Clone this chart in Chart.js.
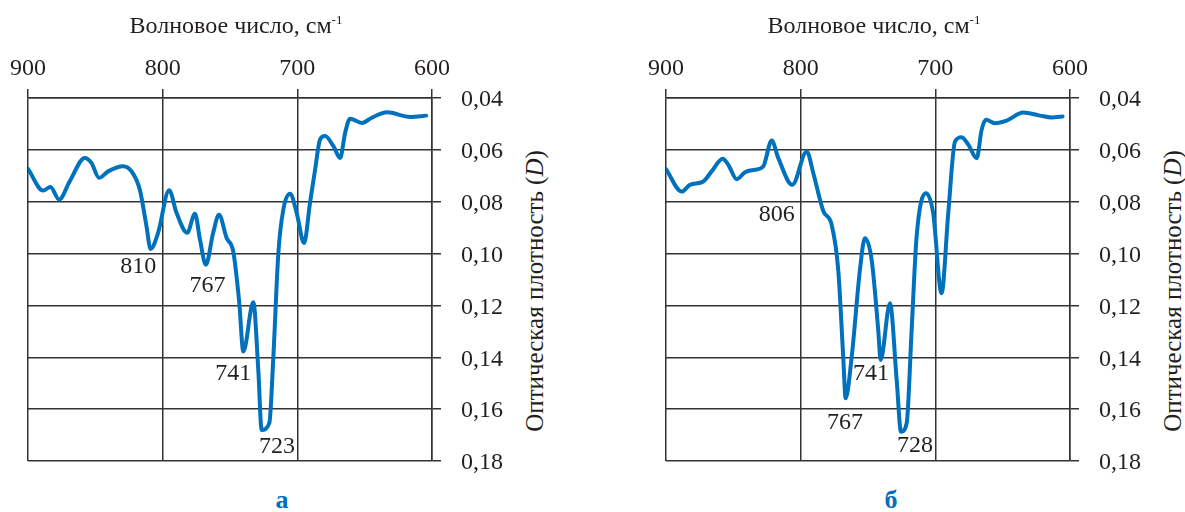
<!DOCTYPE html>
<html>
<head>
<meta charset="utf-8">
<script src="https://cdn.jsdelivr.net/npm/chart.js@4/dist/chart.umd.min.js"></script>
<style>
  body { margin: 0; background: #fff; width: 1185px; height: 512px; position: relative; overflow: hidden; font-family: "Liberation Serif", serif; color: #231f20; }
  canvas { position: absolute; top: 0; }
  .title { position: absolute; width: 400px; text-align: center; font-size: 24px; line-height: 24px; white-space: nowrap; }
  .title span { font-size: 13px; position: relative; top: -9px; }
  .ytitle { position: absolute; width: 400px; height: 30px; line-height: 30px; text-align: center; font-size: 25px; transform: rotate(-90deg); white-space: nowrap; }
  .letter { position: absolute; width: 60px; text-align: center; font-size: 26px; line-height: 30px; font-weight: bold; color: #0071bc; }
</style>
</head>
<body>
<canvas id="chartA" width="520" height="480" style="left:0"></canvas>
<canvas id="chartB" width="520" height="480" style="left:638px"></canvas>

<div class="title" style="left:36px; top:13px">Волновое число, см<span>-1</span></div>
<div class="title" style="left:674px; top:13px">Волновое число, см<span>-1</span></div>
<div class="ytitle" style="left:335px; top:276px">Оптическая плотность (<i>D</i>)</div>
<div class="ytitle" style="left:973px; top:276px">Оптическая плотность (<i>D</i>)</div>
<div class="letter" style="left:252px; top:485px">а</div>
<div class="letter" style="left:861px; top:485px">б</div>

<script>
// axis ticks
const xTicks = [900, 800, 700, 600];
const yTicks = [0.04, 0.06, 0.08, 0.10, 0.12, 0.14, 0.16, 0.18];

// panel a: wave number (cm-1) and optical density
const wnA = [900, 888.8, 883.3, 876.9, 869, 857.8, 852.9, 847.2, 840.5, 829.4, 823.1, 817, 812, 809, 803.4,
  795.2, 789.7, 781.8, 776, 772.3, 767.9, 762.5, 758.2, 752.5, 747.6, 743.1, 740.1, 732.7, 729, 726.5,
  720.8, 717.8, 714.1, 710.4, 705.4, 700.5, 695, 690.6, 686.8, 683.1, 679.4, 673.2, 668.2, 664.5, 660.8,
  652.1, 644.7, 633.5, 616.2, 604.3];
const dA = [0.0673, 0.0757, 0.0743, 0.0792, 0.0721, 0.0631, 0.0650, 0.0708, 0.0683, 0.0663, 0.0683, 0.0753, 0.0895, 0.0982, 0.092,
  0.0756, 0.0843, 0.092, 0.0846, 0.0946, 0.1043, 0.092, 0.085, 0.094, 0.0992, 0.1191, 0.1378, 0.1188, 0.1448, 0.168,
  0.1654, 0.1397, 0.0998, 0.083, 0.0769, 0.0843, 0.0959, 0.0805, 0.0676, 0.056, 0.0547, 0.0586, 0.0631, 0.0534, 0.048,
  0.0496, 0.0476, 0.0455, 0.0473, 0.0468];

// panel b
const wnB = [900, 888.3, 882.2, 872.3, 866.1, 857.9, 853.7, 847.5, 841.3, 833.9, 827.8, 821.5, 816.6, 806.2, 795.5,
  790.6, 783.2, 777, 772.1, 768.4, 766.6, 762.1, 756, 752.3, 747.3, 742.4, 740.6, 733.7, 728.7, 725.5,
  721.3, 717.6, 713.9, 707, 701.6, 695.4, 690.4, 685.4, 680.5, 675.5, 669.3, 665.6, 662.4, 655.7, 647.1,
  634.7, 622.3, 613.6, 605.5];
const dB = [0.0674, 0.0761, 0.0735, 0.0722, 0.0683, 0.0634, 0.0658, 0.0713, 0.0686, 0.0677, 0.0664, 0.0564, 0.0632, 0.0735, 0.0606,
  0.069, 0.0836, 0.0889, 0.1063, 0.1398, 0.1558, 0.1398, 0.1063, 0.0941, 0.1024, 0.1295, 0.141, 0.1192, 0.1488, 0.1687,
  0.1655, 0.1295, 0.0934, 0.0767, 0.0844, 0.1153, 0.0844, 0.0568, 0.0551, 0.058, 0.0632, 0.0522, 0.0484, 0.0497, 0.0487,
  0.0456, 0.0468, 0.0475, 0.0471];

// peak labels (text, position in data units)
const peakTextA = ["810", "767", "741", "723"];
const peakWnA = [818.2, 766.8, 747.6, 715.1];
const peakDA = [0.1051, 0.1125, 0.1464, 0.1744];
const peakTextB = ["806", "741", "767", "728"];
const peakWnB = [817.8, 747.8, 767.1, 715.1];
const peakDB = [0.0851, 0.1463, 0.1654, 0.1742];

const peakLabels = {
  id: "peakLabels",
  afterDatasetsDraw(chart, args, opts) {
    const { ctx, scales } = chart;
    ctx.save();
    ctx.font = "24px 'Liberation Serif'";
    ctx.fillStyle = "#231f20";
    ctx.textAlign = "center";
    ctx.textBaseline = "middle";
    opts.texts.forEach((t, i) => {
      ctx.fillText(t, scales.x.getPixelForValue(opts.wn[i]), scales.y.getPixelForValue(opts.d[i]));
    });
    ctx.restore();
  },
};

function makePanel(id, wn, d, texts, lwn, ld) {
  const gridColor = "#333";
  new Chart(document.getElementById(id), {
    type: "line",
    data: {
      datasets: [{
        data: wn.map((w, i) => ({ x: w, y: d[i] })),
        borderColor: "#0071bc",
        borderWidth: 4,
        pointRadius: 0,
        fill: false,
        cubicInterpolationMode: "monotone",
        borderCapStyle: "round",
        borderJoinStyle: "round",
      }],
    },
    plugins: [peakLabels],
    options: {
      responsive: false,
      animation: false,
      layout: { padding: { left: 28, top: 0, right: 0, bottom: 19 } },
      plugins: {
        legend: { display: false },
        tooltip: { enabled: false },
        peakLabels: { texts: texts, wn: lwn, d: ld },
      },
      scales: {
        x: {
          type: "linear",
          position: "top",
          reverse: true,
          min: xTicks[xTicks.length - 1],
          max: xTicks[0],
          afterBuildTicks: (s) => { s.ticks = xTicks.map((v) => ({ value: v })); },
          afterFit: (s) => { s.height = 98; s.paddingLeft = 0; s.paddingRight = 0; },
          ticks: {
            font: { family: "Liberation Serif", size: 24 },
            color: "#231f20",
            padding: 6,
            maxRotation: 0,
          },
          grid: { color: gridColor, lineWidth: 1.5, tickLength: 9 },
          border: { color: gridColor, width: 1.5 },
        },
        y: {
          type: "linear",
          position: "right",
          reverse: true,
          min: yTicks[0],
          max: yTicks[yTicks.length - 1],
          afterBuildTicks: (s) => { s.ticks = yTicks.map((v) => ({ value: v })); },
          afterFit: (s) => { s.width = 88; s.paddingTop = 0; s.paddingBottom = 0; },
          ticks: {
            font: { family: "Liberation Serif", size: 24 },
            color: "#231f20",
            padding: 20,
            labelOffset: 2,
            callback: (v) => v.toFixed(2).replace(".", ","),
          },
          grid: { color: gridColor, lineWidth: 1.5, tickLength: 9 },
          border: { color: gridColor, width: 1.5 },
        },
      },
    },
  });
}

makePanel("chartA", wnA, dA, peakTextA, peakWnA, peakDA);
makePanel("chartB", wnB, dB, peakTextB, peakWnB, peakDB);
</script>
</body>
</html>
